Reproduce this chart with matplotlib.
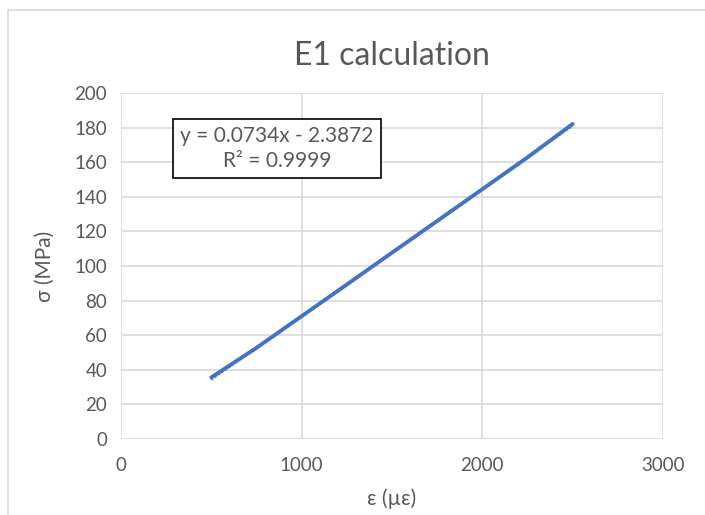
import matplotlib
matplotlib.use("Agg")
import matplotlib.pyplot as plt
from matplotlib.patches import Rectangle

# --- Datos medidos ---
deformacion = [500, 750, 1000, 1250, 1500, 1750, 2000, 2250, 2500]          # ε (µε)
esfuerzo = [35.6, 52.7, 71.0, 89.3, 107.7, 126.0, 144.4, 162.8, 182.1]       # σ (MPa)

# --- Línea de tendencia (ajuste lineal) ---
pendiente = 0.0734
intercepto = -2.3872
r2 = 0.9999

x_ticks = [0, 1000, 2000, 3000]
y_ticks = list(range(0, 201, 20))

gris_texto = '#595959'
gris_grid = '#D9D9D9'
azul = '#4472C4'

plt.rcParams['font.family'] = ['Lato', 'DejaVu Sans']

fig = plt.figure(figsize=(7.05, 5.15), dpi=100)
ax = fig.add_axes([121/705, 1 - 439/515, (663 - 121)/705, (439 - 93)/515])

# marco del gráfico (se sale por la derecha y por abajo)
fig.patches.append(Rectangle((8/705, -0.1), 1.2, 1.1 - 10/515, transform=fig.transFigure,
                             fill=False, edgecolor=gris_grid, linewidth=1.2))

ax.plot(deformacion, esfuerzo, color=azul, linewidth=2.8, solid_capstyle='round', zorder=3)
x_tend = [deformacion[0], deformacion[-1]]
y_tend = [pendiente * v + intercepto for v in x_tend]
ax.plot(x_tend, y_tend, color=azul, linewidth=1.5, linestyle=(0, (1, 1)), zorder=4)

ax.set_xlim(0, 3000)
ax.set_ylim(0, 200)
ax.set_xticks(x_ticks)
ax.set_yticks(y_ticks)
ax.grid(True, color=gris_grid, linewidth=1.2)
ax.set_axisbelow(True)
for s in ax.spines.values():
    s.set_visible(False)
ax.axhline(0, color=gris_grid, linewidth=1.2, zorder=1)
ax.tick_params(axis='x', length=0, labelsize=13.5, labelcolor=gris_texto, pad=13)
ax.tick_params(axis='y', length=0, labelsize=13.5, labelcolor=gris_texto, pad=10)

ax.set_title('E1 calculation', fontsize=23, color=gris_texto, pad=20)
ax.set_xlabel('ε (µε)', fontsize=15, color=gris_texto, labelpad=10)
ax.set_ylabel('σ (MPa)', fontsize=15, color=gris_texto, labelpad=14)

ax.text(0.288, 0.84, f'y = {pendiente}x - {abs(intercepto)}\nR² = {r2}', transform=ax.transAxes,
        ha='center', va='center', fontsize=15, color=gris_texto, linespacing=1.3,
        bbox=dict(boxstyle='square,pad=0.35', facecolor='white', edgecolor='black', linewidth=1.2))

fig.savefig('out.png', dpi=100, facecolor='white')
